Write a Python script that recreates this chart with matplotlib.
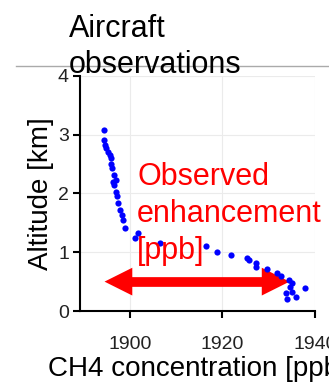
import matplotlib
matplotlib.use("Agg")
import matplotlib.pyplot as plt
from matplotlib.lines import Line2D

plt.rcParams['font.family'] = ['Liberation Sans', 'DejaVu Sans']

# aircraft profile: CH4 [ppb] vs altitude [km]
ch4 = [1894.4, 1894.4, 1894.6, 1894.9, 1895.3, 1895.6, 1895.8, 1896.0, 1896.2,
       1896.5, 1896.9, 1896.4, 1896.5, 1896.9, 1897.1, 1897.4, 1897.8, 1898.2,
       1898.5, 1898.9, 1901.7, 1901.0, 1906.4, 1916.4, 1918.9, 1921.9, 1925.3,
       1925.8, 1927.2, 1927.3, 1929.7, 1931.7, 1932.6, 1934.4, 1935.0, 1934.7,
       1933.8, 1935.1, 1934.0, 1936.0, 1937.8]
alt = [3.08, 2.91, 2.83, 2.77, 2.71, 2.66, 2.60, 2.51, 2.43,
       2.31, 2.23, 2.20, 2.14, 2.03, 1.95, 1.83, 1.72, 1.63,
       1.55, 1.41, 1.32, 1.24, 1.15, 1.11, 1.01, 0.95, 0.91,
       0.86, 0.81, 0.75, 0.71, 0.65, 0.60, 0.53, 0.47, 0.41,
       0.31, 0.33, 0.20, 0.24, 0.40]

xticks = [1900, 1920, 1940]
yticks = [0, 1, 2, 3, 4]
arrow_x = [1894.5, 1934.5]
arrow_alt = 0.5
head_len = 6.0  # in ppb

fig = plt.figure(figsize=(3.29, 3.86), dpi=100)
ax = fig.add_axes([80/329, 1 - 311/386, 235/329, 235/386])

ax.set_xlim(1889.2, 1939.8)
ax.set_ylim(0, 4)
ax.set_xticks(xticks)
ax.set_yticks(yticks)
ax.grid(True, color='#ebebeb', lw=0.8)
ax.set_axisbelow(True)
for s in ['top', 'right']:
    ax.spines[s].set_visible(False)
for s in ['left', 'bottom']:
    ax.spines[s].set_linewidth(1.5)
ax.tick_params(width=1.5, length=5, labelsize=14, labelcolor='#222222')
ax.tick_params(axis='x', pad=13)
ax.tick_params(axis='y', pad=3)

# double arrow: shaft + filled heads
ax.plot([arrow_x[0] + head_len * 0.9, arrow_x[1] - head_len * 0.9],
        [arrow_alt, arrow_alt], color='red', lw=7, solid_capstyle='butt',
        zorder=2)
ax.annotate('', xy=(arrow_x[0], arrow_alt), xytext=(arrow_x[1], arrow_alt),
            arrowprops=dict(arrowstyle='<|-|>,head_length=2.0,head_width=1.0',
                            color='red', lw=0, shrinkA=0, shrinkB=0),
            zorder=2)
ax.scatter(ch4, alt, s=20, color='blue', lw=0, zorder=3, clip_on=False)

ax.text(0.243, 0.635, 'Observed\nenhancement\n[ppb]', transform=ax.transAxes,
        color='red', fontsize=22, va='top', ha='left', linespacing=1.3, zorder=4)

ax.set_xlabel('CH4 concentration [ppb]', fontsize=20, labelpad=2)
ax.set_ylabel('Altitude [km]', fontsize=20, labelpad=3)

fig.text(69/329, 1 - 14/386, 'Aircraft\nobservations', fontsize=22,
         va='top', ha='left', linespacing=1.25)
fig.add_artist(Line2D([16/329, 1], [1 - 66/386, 1 - 66/386],
                      color='#aaaaaa', lw=1, zorder=0))

fig.savefig('out.png', dpi=100)
